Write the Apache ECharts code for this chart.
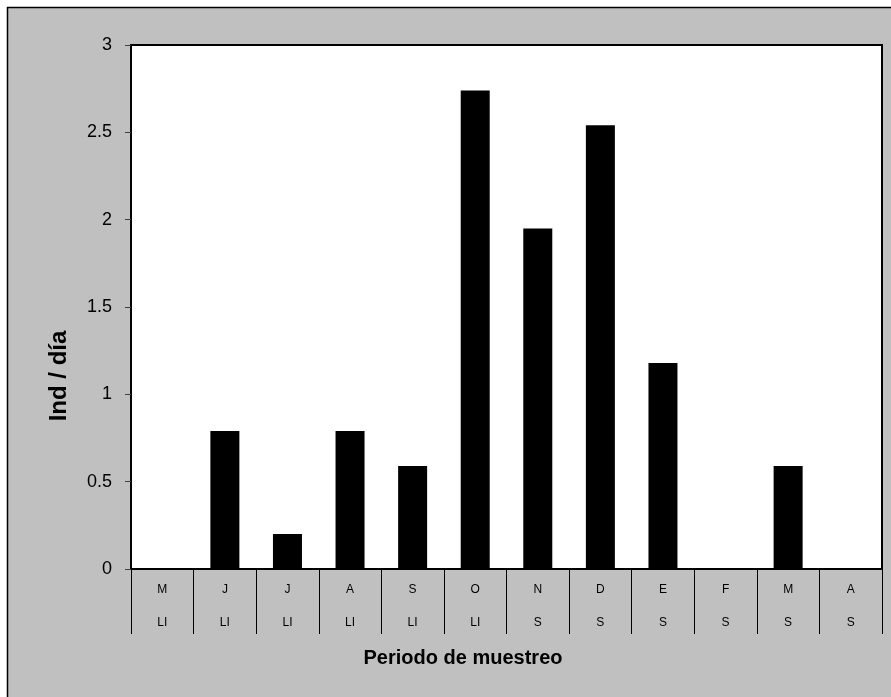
<!DOCTYPE html>
<html>
<head>
<meta charset="utf-8">
<script src="https://cdn.jsdelivr.net/npm/echarts@6/dist/echarts.min.js"></script>
<style>
html,body{margin:0;padding:0;background:#fff;}
#main{width:891px;height:697px;}
</style>
</head>
<body>
<div id="main"></div>
<script>
var months = ['M','J','J','A','S','O','N','D','E','F','M','A'];
var seasons = ['LI','LI','LI','LI','LI','LI','S','S','S','S','S','S'];
var values = [0, 0.79, 0.2, 0.79, 0.59, 2.74, 1.95, 2.54, 1.18, 0, 0.59, 0];
var yTicks = [0, 0.5, 1, 1.5, 2, 2.5, 3];
var xTitle = 'Periodo de muestreo';
var yTitle = 'Ind / día';

var categories = months.map(function(m, i){ return m + '\n' + seasons[i]; });
var FONT = '"Liberation Sans", Arial, Helvetica, sans-serif';

var chart = echarts.init(document.getElementById('main'), null, {renderer:'canvas'});
chart.setOption({
  animation: false,
  backgroundColor: '#ffffff',
  textStyle: { fontFamily: FONT },
  graphic: [
    { type: 'rect', z: -10, silent: true,
      shape: { x: 7.5, y: 7.5, width: 1000, height: 1000 },
      style: { fill: '#c0c0c0', stroke: '#000', lineWidth: 1.5 } },
    { type: 'text', x: 463, y: 658, z: 10,
      style: { text: xTitle, font: 'bold 20px ' + FONT, fill: '#000',
               textAlign: 'center', textVerticalAlign: 'middle' } },
    { type: 'text', x: 59, y: 376, rotation: Math.PI / 2, z: 10,
      style: { text: yTitle, font: 'bold 24px ' + FONT, fill: '#000',
               textAlign: 'center', textVerticalAlign: 'middle' } }
  ],
  grid: {
    left: 131, top: 45, right: 9, bottom: 128,
    show: true, backgroundColor: '#ffffff', borderColor: '#000', borderWidth: 2,
    containLabel: false
  },
  xAxis: {
    type: 'category',
    data: categories,
    boundaryGap: true,
    axisLine: { show: true, lineStyle: { color: '#000', width: 2 } },
    axisTick: { show: true, interval: 0, length: 65, lineStyle: { color: '#000', width: 1 } },
    axisLabel: { interval: 0, fontSize: 12, lineHeight: 33, margin: 4, color: '#000', fontFamily: FONT },
    splitLine: { show: false }
  },
  yAxis: {
    type: 'value',
    min: yTicks[0], max: yTicks[yTicks.length - 1], interval: 0.5,
    axisLine: { show: true, lineStyle: { color: '#000', width: 2 } },
    axisTick: { show: true, length: 6, lineStyle: { color: '#404040', width: 1 } },
    axisLabel: { fontSize: 18, margin: 19, color: '#000', fontFamily: FONT },
    splitLine: { show: false }
  },
  series: [{
    type: 'bar',
    data: values,
    barWidth: 29,
    itemStyle: { color: '#000' }
  }]
});
</script>
</body>
</html>
